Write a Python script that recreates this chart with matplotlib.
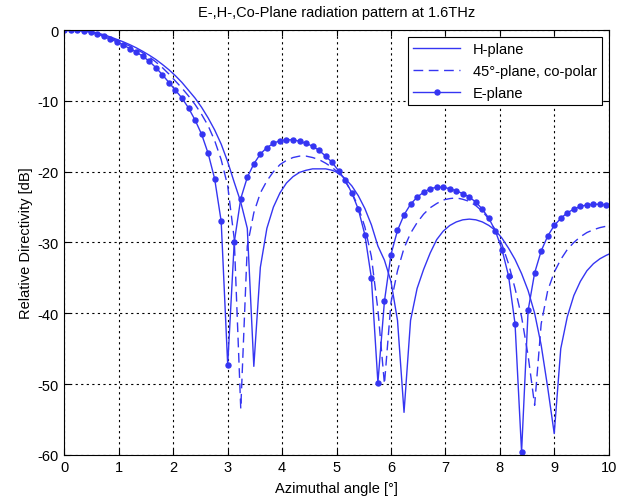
import numpy as np
import matplotlib
matplotlib.use('Agg')
import matplotlib.pyplot as plt

plt.rcParams['font.family'] = ['Liberation Sans', 'DejaVu Sans']
plt.rcParams['axes.unicode_minus'] = False

# 采样角度 (0.12° 步长)
angle = np.round(np.arange(85) * 0.12, 2)

# H-plane
h_plane = [0, 0, -0.03, -0.08, -0.2, -0.4, -0.65, -0.95, -1.3, -1.65,
           -2.05, -2.5, -3.0, -3.55, -4.15, -4.85, -5.6, -6.45, -7.4, -8.5,
           -9.6, -10.9, -12.4, -14.1, -16.1, -18.6, -21.5, -24.3, -28.0, -47.5,
           -33.5, -28.0, -25.0, -23.0, -21.6, -20.7, -20.1, -19.8, -19.6, -19.6,
           -19.6, -19.8, -20.2, -21.0, -22.0, -23.4, -25.2, -27.5, -30.5, -32.5,
           -35.5, -41.0, -54.0, -41.0, -36.5, -33.8, -31.5, -29.6, -28.4, -27.6,
           -27.1, -26.8, -26.7, -26.8, -27.1, -27.6, -28.3, -29.4, -30.8, -32.4,
           -34.4, -36.8, -40.0, -44.5, -50.5, -57.0, -45.0, -40.5, -37.5, -35.5,
           -34.0, -33.0, -32.3, -31.8, -31.4]

# 45°-plane, co-polar
co_plane = [0, 0, -0.04, -0.1, -0.25, -0.45, -0.75, -1.1, -1.45, -1.85,
            -2.25, -2.7, -3.2, -3.8, -4.5, -5.3, -6.2, -7.2, -8.2, -9.3,
            -10.5, -11.9, -13.5, -15.6, -18.3, -22.0, -29.5, -53.5, -30.5, -25.8,
            -23.0, -21.3, -20.0, -19.0, -18.4, -18.0, -17.8, -17.8, -18.0, -18.3,
            -18.8, -19.4, -20.2, -21.4, -22.9, -25.0, -27.8, -32.0, -39.5, -50.0,
            -38.5, -34.0, -30.8, -28.7, -27.2, -26.0, -25.1, -24.5, -24.0, -23.8,
            -23.7, -23.9, -24.2, -24.8, -25.6, -26.7, -28.3, -30.3, -33.0, -36.5,
            -40.5, -46.0, -53.0, -41.5, -36.8, -34.2, -32.4, -31.0, -30.0, -29.2,
            -28.6, -28.2, -27.9, -27.7, -27.6]

# E-plane
e_plane = [0, 0, -0.05, -0.1, -0.3, -0.55, -0.9, -1.25, -1.65, -2.1,
           -2.6, -3.1, -3.7, -4.4, -5.3, -6.3, -7.4, -8.5, -9.6, -11.0,
           -12.7, -14.7, -17.4, -21.0, -27.0, -47.3, -30.0, -23.8, -20.8, -18.9,
           -17.5, -16.6, -16.0, -15.6, -15.5, -15.5, -15.7, -16.0, -16.4, -17.0,
           -17.8, -18.7, -19.9, -21.2, -23.0, -25.3, -28.9, -35.0, -49.8, -38.3,
           -31.7, -28.3, -26.1, -24.6, -23.6, -22.9, -22.4, -22.2, -22.2, -22.4,
           -22.7, -23.1, -23.6, -24.3, -25.3, -26.6, -28.4, -31.0, -34.7, -41.5,
           -59.6, -39.6, -34.3, -31.2, -29.1, -27.6, -26.6, -25.8, -25.3, -24.9,
           -24.7, -24.6, -24.6, -24.7, -24.8]

blue = '#3535f2'

fig = plt.figure(figsize=(6.38, 5.02), dpi=100)
ax = fig.add_axes([0.101, 0.092, 0.853, 0.846])

ax.plot(angle, h_plane, '-', color=blue, lw=1.0, label='H-plane')
ax.plot(angle, co_plane, '--', color=blue, lw=1.0, dashes=(7, 4), label='45°-plane, co-polar')
ax.plot(angle, e_plane, '-', color=blue, lw=1.0, marker='o', markersize=3.6,
        label='E-plane')

ax.set_xlim(0, 10)
ax.set_ylim(-60, 0)
ax.set_xticks(range(0, 11))
ax.set_yticks(range(-60, 1, 10))
ax.tick_params(direction='in', length=4, labelsize=10.5, top=True, right=True, pad=4)
ax.grid(True, color='black', linestyle=(0, (2, 3)), linewidth=0.8)
for s in ax.spines.values():
    s.set_linewidth(0.8)

ax.set_title('E-,H-,Co-Plane radiation pattern at 1.6THz', fontsize=10.5, pad=10)
ax.set_xlabel('Azimuthal angle [°]', fontsize=10.5, labelpad=5)
ax.set_ylabel('Relative Directivity [dB]', fontsize=10.5, labelpad=3)

leg = ax.legend(loc='upper right', fontsize=10.5, fancybox=False, framealpha=1,
                edgecolor='black', handlelength=3.2, handletextpad=0.9,
                borderpad=0.35, borderaxespad=0.45, labelspacing=0.55)
leg.get_frame().set_linewidth(0.8)

fig.savefig('out.png', dpi=100)
